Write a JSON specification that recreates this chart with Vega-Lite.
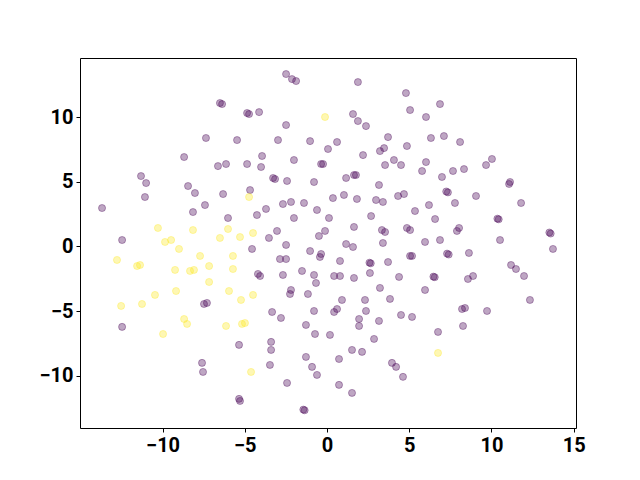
{
  "$schema": "https://vega.github.io/schema/vega-lite/v6.json",
  "width": 496,
  "height": 370,
  "autosize": "none",
  "padding": {"left": 80, "top": 58, "right": 64, "bottom": 52},
  "background": "white",
  "config": {
    "view": {"stroke": "black", "strokeWidth": 1},
    "axis": {
      "grid": false,
      "domain": false,
      "tickColor": "black",
      "tickSize": 4,
      "tickWidth": 1,
      "labelFont": "Roboto",
      "labelFontWeight": "bold",
      "labelFontSize": 20,
      "labelColor": "black",
      "labelPadding": 3,
      "title": null
    }
  },
  "data": {
    "values": [
      {"x": -7.36, "y": 8.38, "c": 0}, {"x": -8.69, "y": 6.91, "c": 0}, {"x": -11.31, "y": 5.44, "c": 0}, {"x": -11.0, "y": 4.9, "c": 0},
      {"x": -8.45, "y": 4.67, "c": 0}, {"x": -2.49, "y": 13.32, "c": 0}, {"x": -2.13, "y": 12.93, "c": 0}, {"x": -1.88, "y": 12.78, "c": 0},
      {"x": -6.51, "y": 11.08, "c": 0}, {"x": -6.38, "y": 11.0, "c": 0}, {"x": -4.86, "y": 10.31, "c": 0}, {"x": -4.74, "y": 10.23, "c": 0},
      {"x": -4.13, "y": 10.38, "c": 0}, {"x": -2.49, "y": 9.38, "c": 0}, {"x": -5.47, "y": 8.22, "c": 0}, {"x": -2.98, "y": 8.22, "c": 0},
      {"x": -1.03, "y": 8.14, "c": 0}, {"x": 0.06, "y": 7.53, "c": 0}, {"x": -6.63, "y": 6.21, "c": 0}, {"x": -6.14, "y": 6.37, "c": 0},
      {"x": -4.86, "y": 6.37, "c": 0}, {"x": -3.95, "y": 6.99, "c": 0}, {"x": -4.01, "y": 6.14, "c": 0}, {"x": -2.01, "y": 6.68, "c": 0},
      {"x": -0.36, "y": 6.37, "c": 0}, {"x": -0.24, "y": 6.37, "c": 0}, {"x": -3.28, "y": 5.29, "c": 0}, {"x": -3.16, "y": 5.21, "c": 0},
      {"x": -2.43, "y": 5.06, "c": 0}, {"x": -0.79, "y": 4.98, "c": 0}, {"x": 1.88, "y": 12.7, "c": 0}, {"x": 4.8, "y": 11.85, "c": 0},
      {"x": 1.58, "y": 10.23, "c": 0}, {"x": 1.88, "y": 9.69, "c": 0}, {"x": 2.37, "y": 9.3, "c": 0}, {"x": 5.05, "y": 10.54, "c": 0},
      {"x": 6.02, "y": 10.0, "c": 0}, {"x": 6.87, "y": 11.0, "c": 0}, {"x": 3.71, "y": 8.45, "c": 0}, {"x": 0.61, "y": 8.07, "c": 0},
      {"x": 2.19, "y": 7.06, "c": 0}, {"x": 3.22, "y": 7.37, "c": 0}, {"x": 3.47, "y": 7.6, "c": 0}, {"x": 4.86, "y": 7.76, "c": 0},
      {"x": 6.32, "y": 8.38, "c": 0}, {"x": 7.11, "y": 8.53, "c": 0}, {"x": 4.07, "y": 6.68, "c": 0}, {"x": 4.5, "y": 6.29, "c": 0},
      {"x": 3.53, "y": 6.29, "c": 0}, {"x": 6.02, "y": 6.52, "c": 0}, {"x": 5.78, "y": 5.83, "c": 0}, {"x": 7.66, "y": 5.83, "c": 0},
      {"x": 1.16, "y": 5.29, "c": 0}, {"x": 1.64, "y": 5.52, "c": 0}, {"x": 1.76, "y": 5.52, "c": 0}, {"x": 3.16, "y": 4.75, "c": 0},
      {"x": 6.99, "y": 5.37, "c": 0}, {"x": 8.09, "y": 8.07, "c": 0}, {"x": 10.03, "y": 6.76, "c": 0}, {"x": 9.67, "y": 6.29, "c": 0},
      {"x": 8.33, "y": 5.98, "c": 0}, {"x": 11.13, "y": 4.98, "c": 0}, {"x": 11.07, "y": 4.83, "c": 0}, {"x": -8.03, "y": 4.13, "c": 0},
      {"x": -11.07, "y": 3.82, "c": 0}, {"x": -13.68, "y": 2.97, "c": 0}, {"x": -7.42, "y": 3.2, "c": 0}, {"x": -8.15, "y": 2.66, "c": 0},
      {"x": -12.46, "y": 0.5, "c": 0}, {"x": -4.68, "y": 4.36, "c": 0}, {"x": -6.32, "y": 4.05, "c": 0}, {"x": -3.71, "y": 2.9, "c": 0},
      {"x": -2.68, "y": 3.28, "c": 0}, {"x": -2.19, "y": 3.44, "c": 0}, {"x": -1.4, "y": 3.36, "c": 0}, {"x": -0.61, "y": 2.82, "c": 0},
      {"x": 0.12, "y": 2.2, "c": 0}, {"x": -4.26, "y": 2.43, "c": 0}, {"x": -2.01, "y": 2.2, "c": 0}, {"x": -6.02, "y": 2.2, "c": 0},
      {"x": -3.04, "y": 1.2, "c": 0}, {"x": -3.53, "y": 0.66, "c": 0}, {"x": -0.49, "y": 0.81, "c": 0}, {"x": -0.12, "y": 1.2, "c": 0},
      {"x": -2.49, "y": 0.12, "c": 0}, {"x": -4.56, "y": -0.19, "c": 0}, {"x": -1.03, "y": -0.35, "c": 0}, {"x": -0.36, "y": -0.58, "c": 0},
      {"x": -0.43, "y": -0.81, "c": 0}, {"x": -2.86, "y": -0.97, "c": 0}, {"x": -2.49, "y": -0.97, "c": 0}, {"x": -4.2, "y": -2.12, "c": 0},
      {"x": -4.07, "y": -2.28, "c": 0}, {"x": -2.68, "y": -2.2, "c": 0}, {"x": -1.52, "y": -1.89, "c": 0}, {"x": -0.79, "y": -2.2, "c": 0},
      {"x": -0.67, "y": -2.82, "c": 0}, {"x": -2.19, "y": -3.36, "c": 0}, {"x": -2.25, "y": -3.67, "c": 0}, {"x": -1.16, "y": -3.67, "c": 0},
      {"x": -7.48, "y": -4.44, "c": 0}, {"x": -7.3, "y": -4.36, "c": 0}, {"x": 0.36, "y": 3.74, "c": 0}, {"x": 1.03, "y": 3.98, "c": 0},
      {"x": 1.82, "y": 3.67, "c": 0}, {"x": 2.98, "y": 3.59, "c": 0}, {"x": 3.4, "y": 3.44, "c": 0}, {"x": 4.32, "y": 3.9, "c": 0},
      {"x": 4.68, "y": 4.05, "c": 0}, {"x": 7.25, "y": 4.25, "c": 0}, {"x": 7.35, "y": 4.18, "c": 0}, {"x": 7.78, "y": 3.36, "c": 0},
      {"x": 5.35, "y": 2.74, "c": 0}, {"x": 6.2, "y": 3.2, "c": 0}, {"x": 2.68, "y": 2.35, "c": 0}, {"x": 6.57, "y": 2.12, "c": 0},
      {"x": 1.64, "y": 1.51, "c": 0}, {"x": 3.34, "y": 1.27, "c": 0}, {"x": 3.53, "y": 1.12, "c": 0}, {"x": 4.86, "y": 1.43, "c": 0},
      {"x": 5.05, "y": 1.27, "c": 0}, {"x": 3.4, "y": 0.27, "c": 0}, {"x": 1.16, "y": 0.19, "c": 0}, {"x": 1.58, "y": -0.04, "c": 0},
      {"x": 5.96, "y": 0.35, "c": 0}, {"x": 6.87, "y": 0.5, "c": 0}, {"x": 0.79, "y": -1.12, "c": 0}, {"x": 2.58, "y": -1.25, "c": 0},
      {"x": 2.66, "y": -1.3, "c": 0}, {"x": 3.71, "y": -1.2, "c": 0}, {"x": 5.05, "y": -0.73, "c": 0}, {"x": 5.17, "y": -0.73, "c": 0},
      {"x": 7.3, "y": -0.55, "c": 0}, {"x": 7.4, "y": -0.62, "c": 0}, {"x": 0.43, "y": -2.28, "c": 0}, {"x": 0.79, "y": -2.28, "c": 0},
      {"x": 1.64, "y": -2.43, "c": 0}, {"x": 2.61, "y": -2.05, "c": 0}, {"x": 4.38, "y": -2.35, "c": 0}, {"x": 6.47, "y": -2.33, "c": 0},
      {"x": 6.55, "y": -2.37, "c": 0}, {"x": 3.22, "y": -3.2, "c": 0}, {"x": 5.96, "y": -3.36, "c": 0}, {"x": 0.91, "y": -4.13, "c": 0},
      {"x": 2.31, "y": -4.13, "c": 0}, {"x": 3.83, "y": -4.05, "c": 0}, {"x": 9.06, "y": 3.9, "c": 0}, {"x": 11.8, "y": 3.36, "c": 0},
      {"x": 10.36, "y": 2.15, "c": 0}, {"x": 10.44, "y": 2.1, "c": 0}, {"x": 8.03, "y": 1.43, "c": 0}, {"x": 7.9, "y": 1.2, "c": 0},
      {"x": 13.52, "y": 1.08, "c": 0}, {"x": 13.6, "y": 1.0, "c": 0}, {"x": 10.52, "y": 0.5, "c": 0}, {"x": 13.74, "y": -0.19, "c": 0},
      {"x": 8.63, "y": -0.5, "c": 0}, {"x": 11.19, "y": -1.43, "c": 0}, {"x": 11.49, "y": -1.74, "c": 0}, {"x": 11.98, "y": -2.28, "c": 0},
      {"x": 8.88, "y": -2.28, "c": 0}, {"x": 8.57, "y": -2.51, "c": 0}, {"x": 12.34, "y": -4.13, "c": 0}, {"x": 8.21, "y": -4.83, "c": 0},
      {"x": 8.39, "y": -4.75, "c": 0}, {"x": -12.46, "y": -6.21, "c": 0}, {"x": -7.6, "y": -8.99, "c": 0}, {"x": -7.54, "y": -9.69, "c": 0},
      {"x": -3.34, "y": -5.06, "c": 0}, {"x": -2.8, "y": -5.52, "c": 0}, {"x": -0.79, "y": -4.98, "c": 0}, {"x": -1.28, "y": -6.06, "c": 0},
      {"x": -0.73, "y": -6.76, "c": 0}, {"x": 0.18, "y": -6.83, "c": 0}, {"x": -5.35, "y": -7.6, "c": 0}, {"x": -3.4, "y": -7.37, "c": 0},
      {"x": -3.4, "y": -7.99, "c": 0}, {"x": -3.47, "y": -9.15, "c": 0}, {"x": -1.28, "y": -8.53, "c": 0}, {"x": -0.91, "y": -9.3, "c": 0},
      {"x": -0.61, "y": -9.92, "c": 0}, {"x": -2.43, "y": -10.54, "c": 0}, {"x": -5.35, "y": -11.77, "c": 0}, {"x": -5.29, "y": -11.93, "c": 0},
      {"x": -1.44, "y": -12.6, "c": 0}, {"x": -1.36, "y": -12.65, "c": 0}, {"x": 0.43, "y": -5.06, "c": 0}, {"x": 0.61, "y": -4.83, "c": 0},
      {"x": 2.37, "y": -4.98, "c": 0}, {"x": 1.95, "y": -5.6, "c": 0}, {"x": 1.95, "y": -6.14, "c": 0}, {"x": 3.16, "y": -5.75, "c": 0},
      {"x": 4.5, "y": -5.29, "c": 0}, {"x": 5.17, "y": -5.44, "c": 0}, {"x": 6.75, "y": -6.6, "c": 0}, {"x": 2.86, "y": -7.14, "c": 0},
      {"x": 1.52, "y": -7.99, "c": 0}, {"x": 2.13, "y": -8.14, "c": 0}, {"x": 0.73, "y": -8.69, "c": 0}, {"x": 3.95, "y": -8.99, "c": 0},
      {"x": 4.2, "y": -9.3, "c": 0}, {"x": 4.62, "y": -10.07, "c": 0}, {"x": 0.73, "y": -10.69, "c": 0}, {"x": 1.52, "y": -11.31, "c": 0},
      {"x": 9.73, "y": -4.98, "c": 0}, {"x": 8.27, "y": -6.14, "c": 0},
      {"x": -0.12, "y": 10.0, "c": 1}, {"x": -4.74, "y": 3.82, "c": 1}, {"x": -10.28, "y": 1.43, "c": 1}, {"x": -8.15, "y": 1.27, "c": 1},
      {"x": -9.85, "y": 0.35, "c": 1}, {"x": -9.48, "y": 0.5, "c": 1}, {"x": -9.0, "y": -0.19, "c": 1}, {"x": -12.77, "y": -1.04, "c": 1},
      {"x": -11.55, "y": -1.51, "c": 1}, {"x": -11.37, "y": -1.43, "c": 1}, {"x": -7.72, "y": -0.73, "c": 1}, {"x": -9.24, "y": -1.81, "c": 1},
      {"x": -8.33, "y": -1.89, "c": 1}, {"x": -8.09, "y": -1.81, "c": 1}, {"x": -7.17, "y": -1.51, "c": 1}, {"x": -7.17, "y": -2.74, "c": 1},
      {"x": -9.18, "y": -3.44, "c": 1}, {"x": -10.46, "y": -3.74, "c": 1}, {"x": -12.52, "y": -4.59, "c": 1}, {"x": -11.25, "y": -4.44, "c": 1},
      {"x": -6.02, "y": 1.35, "c": 1}, {"x": -6.51, "y": 0.66, "c": 1}, {"x": -5.29, "y": 0.73, "c": 1}, {"x": -4.5, "y": 1.04, "c": 1},
      {"x": -5.72, "y": -0.73, "c": 1}, {"x": -5.72, "y": -1.74, "c": 1}, {"x": -5.96, "y": -3.44, "c": 1}, {"x": -5.23, "y": -4.13, "c": 1},
      {"x": -4.5, "y": -3.74, "c": 1}, {"x": -8.69, "y": -5.6, "c": 1}, {"x": -8.51, "y": -5.98, "c": 1}, {"x": -9.97, "y": -6.76, "c": 1},
      {"x": -6.14, "y": -6.14, "c": 1}, {"x": -5.17, "y": -5.98, "c": 1}, {"x": -4.99, "y": -5.91, "c": 1}, {"x": -4.62, "y": -9.69, "c": 1},
      {"x": 6.75, "y": -8.22, "c": 1}
    ]
  },
  "mark": {"type": "point", "filled": true, "shape": "circle", "size": 50, "fillOpacity": 0.35, "strokeOpacity": 0.35, "strokeWidth": 1},
  "encoding": {
    "x": {"field": "x", "type": "quantitative", "scale": {"domain": [-15.02, 15.14], "nice": false, "zero": false},
      "axis": {"values": [-10, -5, 0, 5, 10, 15], "format": "d"}},
    "y": {"field": "y", "type": "quantitative", "scale": {"domain": [-14.02, 14.56], "nice": false, "zero": false},
      "axis": {"values": [-10, -5, 0, 5, 10], "format": "d"}},
    "color": {"field": "c", "type": "nominal", "scale": {"domain": [0, 1], "range": ["#440154", "#fde725"]}, "legend": null},
    "stroke": {"field": "c", "type": "nominal", "scale": {"domain": [0, 1], "range": ["#440154", "#fde725"]}, "legend": null}
  }
}
